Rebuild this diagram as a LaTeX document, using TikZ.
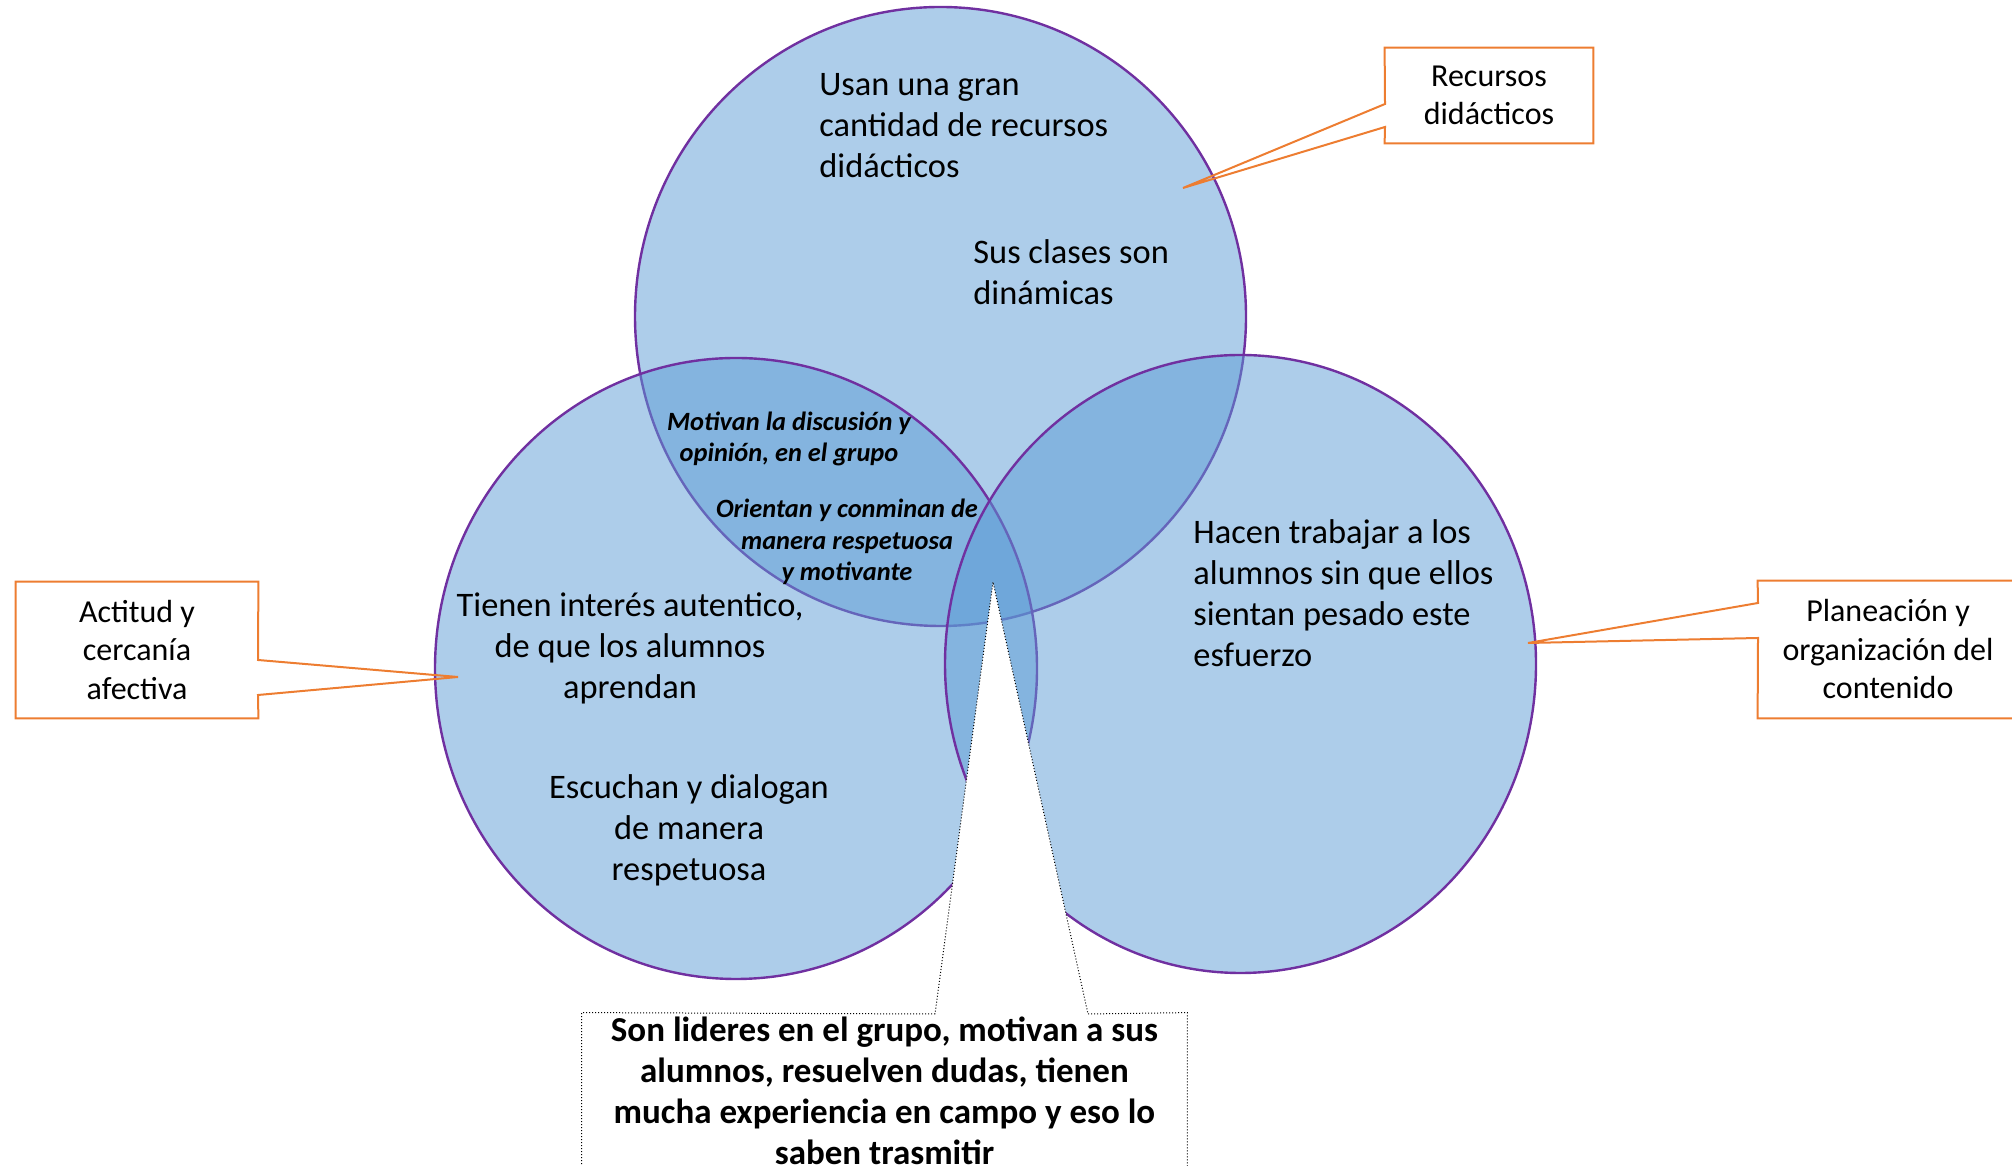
\documentclass[tikz,border=0pt]{standalone}
\usepackage{fontspec}
\setmainfont{Carlito}
\usepackage{xcolor}
\usepackage{tikz}
\definecolor{venn}{RGB}{91,155,213}
\definecolor{rim}{RGB}{112,48,160}
\definecolor{tag}{RGB}{237,125,49}

\begin{document}
\begin{tikzpicture}[x=0.5pt,y=0.5pt]
	\tikzstyle{ring} = [draw=rim,line width=1.2pt,fill=venn,fill opacity=0.5];
	\tikzstyle{tx} = [inner sep=0pt,font=\fontsize{17.2}{20.5}\selectfont];
	\tikzstyle{ov} = [inner sep=0pt,align=center,font=\fontsize{13.2}{15.8}\selectfont\bfseries\itshape];
	\tikzstyle{tagbox} = [inner sep=0pt,align=center,font=\fontsize{16}{19.25}\selectfont];
	\tikzstyle{tagline} = [draw=tag,line width=1pt,line join=miter];
	\tikzstyle{leadline} = [draw=black,line width=0.5pt,densely dotted];
	\useasboundingbox (0,0) rectangle (2012,1166);
	\clip (0,0) rectangle (2012,1166);
	\path [ring] (940.5,849.5) ellipse [x radius=305.5,y radius=309.5];
	\path [ring] (736,497.5) ellipse [x radius=301,y radius=310.5];
	\path [ring] (1240.5,502) ellipse [x radius=295.5,y radius=309];
	\node (usan) at (819,1040) [tx,anchor=west,align=left] {Usan una gran\\cantidad de recursos\\didácticos};
	\node (sus) at (973,894) [tx,anchor=west,align=left] {Sus clases son\\dinámicas};
	\node (tienen) at (630,518) [tx,align=center] {Tienen interés autentico,\\de que los alumnos\\aprendan};
	\node (escuchan) at (689,336) [tx,align=center] {Escuchan y dialogan\\de manera\\respetuosa};
	\node (hacen) at (1193,572.5) [tx,anchor=west,align=left] {Hacen trabajar a los\\alumnos sin que ellos\\sientan pesado este\\esfuerzo};
	\node (motivan) at (789,727) [ov] {Motivan la discusión y\\opinión, en el grupo};
	\node (orientan) at (847,624) [ov] {Orientan y conminan de\\manera respetuosa\\y motivante};
	\node (rec) at (1489,1070.5) [tagbox,minimum width=104pt,minimum height=47.5pt] {Recursos\\didácticos};
	\coordinate (recA) at (1385,1062);
	\coordinate (recB) at (1385,1039);
	\coordinate (recTip) at (1183,978);
	\draw [tagline] (recA) -- (rec.north west) -- (rec.north east) -- (rec.south east) -- (rec.south west) -- (recB) -- (recTip) -- cycle;
	\node (act) at (137,516) [tagbox,minimum width=121pt,minimum height=68pt] {Actitud y\\cercanía\\afectiva};
	\coordinate (actA) at (258,506);
	\coordinate (actB) at (258,471);
	\coordinate (actTip) at (458,489);
	\draw [tagline] (actA) -- (act.north east) -- (act.north west) -- (act.south west) -- (act.south east) -- (actB) -- (actTip) -- cycle;
	\node (plan) at (1888,516.5) [tagbox,minimum width=130pt,minimum height=68.5pt] {Planeación y\\organización del\\contenido};
	\coordinate (planA) at (1758,563);
	\coordinate (planB) at (1758,528);
	\coordinate (planTip) at (1528,523);
	\draw [tagline] (planA) -- (plan.north west) -- (plan.north east) -- (plan.south east) -- (plan.south west) -- (planB) -- (planTip) -- cycle;
	\node (lead) at (884.5,75) [inner sep=0pt,align=center,minimum width=302.5pt,minimum height=78pt,font=\fontsize{17.5}{20.5}\selectfont\bfseries] {Son lideres en el grupo, motivan a sus\\alumnos, resuelven dudas, tienen\\mucha experiencia en campo y eso lo\\saben trasmitir};
	\coordinate (leadA) at (935,152);
	\coordinate (leadB) at (1088,152);
	\coordinate (leadTip) at (993,584);
	\fill [white] (leadA) -- (leadTip) -- (leadB) -- cycle;
	\draw [leadline] (leadA) -- (lead.north west) -- (lead.south west) -- (lead.south east) -- (lead.north east) -- (leadB) -- (leadTip) -- cycle;
\end{tikzpicture}
\end{document}
